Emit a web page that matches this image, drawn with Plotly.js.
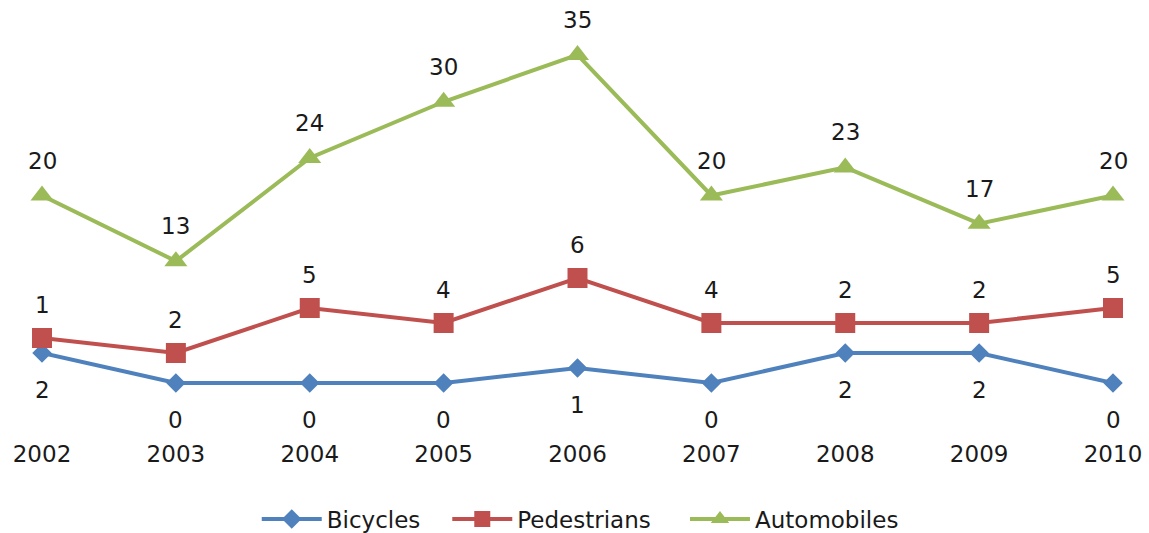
<!DOCTYPE html>
<html>
<head>
<meta charset="utf-8">
<script src="https://cdn.plot.ly/plotly-3.0.1.min.js"></script>
<style>html,body{margin:0;padding:0;background:#fff;}#chart{width:1149px;height:533px;}</style>
</head>
<body>
<div id="chart"></div>
<script>
const years = ["2002","2003","2004","2005","2006","2007","2008","2009","2010"];
const seriesNames = ["Bicycles", "Pedestrians", "Automobiles"];
const bicycles = [2,0,0,0,1,0,2,2,0];
const pedestrians = [1,2,5,4,6,4,2,2,5];
const automobiles = [20,13,24,30,35,20,23,17,20];

const FONT = "DejaVu Sans";
const TXT = "#1a1a1a";
const colBike = "#4F81BD", colPed = "#C0504D", colAuto = "#9BBB59";
const NB = "\u00a0";

const traces = [
  {x: years, y: bicycles, name: seriesNames[0] + NB.repeat(3), type: "scatter", mode: "lines+markers",
   stackgroup: "a", fill: "none", yaxis: "y",
   line: {color: colBike, width: 4}, marker: {symbol: "diamond", size: 15, color: colBike}, cliponaxis: false},
  {x: years, y: pedestrians, name: seriesNames[1] + NB.repeat(4), type: "scatter", mode: "lines+markers",
   stackgroup: "a", fill: "none", yaxis: "y",
   line: {color: colPed, width: 4}, marker: {symbol: "square", size: 20, color: colPed}, cliponaxis: false},
  {x: years, y: automobiles, name: seriesNames[2], type: "scatter", mode: "lines+markers",
   yaxis: "y2",
   line: {color: colAuto, width: 4}, marker: {symbol: "triangle-up", size: 20, color: colAuto}, cliponaxis: false}
];

const labelFont = {family: FONT, size: 23, color: TXT};
const annotations = [];
years.forEach((yr, i) => {
  annotations.push({x: i, y: bicycles[i], xref: "x", yref: "y", text: String(bicycles[i]),
    showarrow: false, yshift: -37, font: labelFont});
  annotations.push({x: i, y: bicycles[i] + pedestrians[i], xref: "x", yref: "y", text: String(pedestrians[i]),
    showarrow: false, yshift: 33, font: labelFont});
  annotations.push({x: i, y: automobiles[i], xref: "x", yref: "y2", text: String(automobiles[i]),
    showarrow: false, yshift: 35, font: labelFont});
});

const hiddenAxis = {showgrid: false, zeroline: false, showline: false, ticks: "", showticklabels: false, fixedrange: true};

const layout = {
  width: 1149, height: 533,
  margin: {l: 42, r: 36, t: 8, b: 135},
  paper_bgcolor: "#ffffff", plot_bgcolor: "#ffffff",
  font: {family: FONT, size: 23, color: TXT},
  showlegend: true,
  legend: {orientation: "h", xref: "container", yref: "container", x: 0.505, xanchor: "center",
    y: 0.026, yanchor: "middle", font: {family: FONT, size: 23, color: TXT}, traceorder: "normal",
    itemwidth: 60},
  xaxis: {type: "category", range: [0, 8], showgrid: false, zeroline: false, showline: false,
    ticks: "", ticklabelstandoff: 40, tickfont: {family: FONT, size: 23, color: TXT}, fixedrange: true},
  yaxis: Object.assign({range: [-1, 25]}, hiddenAxis),
  yaxis2: Object.assign({range: [-1.6, 40], overlaying: "y", side: "right"}, hiddenAxis),
  annotations: annotations
};

Plotly.newPlot("chart", traces, layout, {staticPlot: true, displayModeBar: false});
</script>
</body>
</html>
